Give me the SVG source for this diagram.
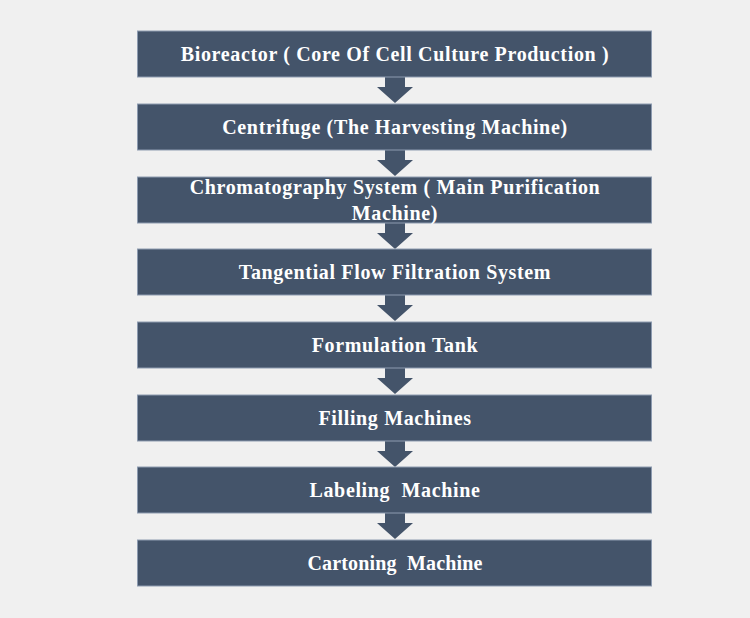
<svg xmlns="http://www.w3.org/2000/svg" width="750" height="618" viewBox="0 0 750 618">
<style>
.box{fill:#44546a;stroke:#8d9bb0;stroke-width:1}
.arr{fill:#44546a}
.t{fill:#ffffff;font-family:"Liberation Serif","Times New Roman",serif;font-weight:bold;font-size:20px;letter-spacing:0.65px;text-anchor:middle}
</style>
<defs>
<path id="ar" d="M -10 0 L 10 0 L 10 10 L 18 10 L 0 26 L -18 10 L -10 10 Z"/>
</defs>
<rect width="750" height="618" fill="#f0f0f0"/>
<g id="connectors">
<use href="#ar" class="arr" x="395" y="77"/>
<use href="#ar" class="arr" x="395" y="150"/>
<use href="#ar" class="arr" x="395" y="223"/>
<use href="#ar" class="arr" x="395" y="295"/>
<use href="#ar" class="arr" x="395" y="368"/>
<use href="#ar" class="arr" x="395" y="441"/>
<use href="#ar" class="arr" x="395" y="513"/>
</g>
<g id="n1"><rect class="box" x="137.5" y="31" width="514" height="46"/><text class="t" x="395" y="60.5">Bioreactor ( Core Of Cell Culture Production )</text></g>
<g id="n2"><rect class="box" x="137.5" y="104" width="514" height="46"/><text class="t" x="395" y="133.5">Centrifuge (The Harvesting Machine)</text></g>
<g id="n3"><rect class="box" x="137.5" y="177" width="514" height="46"/><text class="t" x="395" y="193.5">Chromatography System ( Main Purification</text><text class="t" x="395" y="219.5">Machine)</text></g>
<g id="n4"><rect class="box" x="137.5" y="249" width="514" height="46"/><text class="t" x="395" y="278.5">Tangential Flow Filtration System</text></g>
<g id="n5"><rect class="box" x="137.5" y="322" width="514" height="46"/><text class="t" x="395" y="351.5">Formulation Tank</text></g>
<g id="n6"><rect class="box" x="137.5" y="395" width="514" height="46"/><text class="t" x="395" y="424.5">Filling Machines</text></g>
<g id="n7"><rect class="box" x="137.5" y="467" width="514" height="46"/><text class="t" x="395" y="496.5" xml:space="preserve">Labeling  Machine</text></g>
<g id="n8"><rect class="box" x="137.5" y="540" width="514" height="46"/><text class="t" x="395" y="569.5" style="letter-spacing:0.15px" xml:space="preserve">Cartoning  Machine</text></g>
</svg>
